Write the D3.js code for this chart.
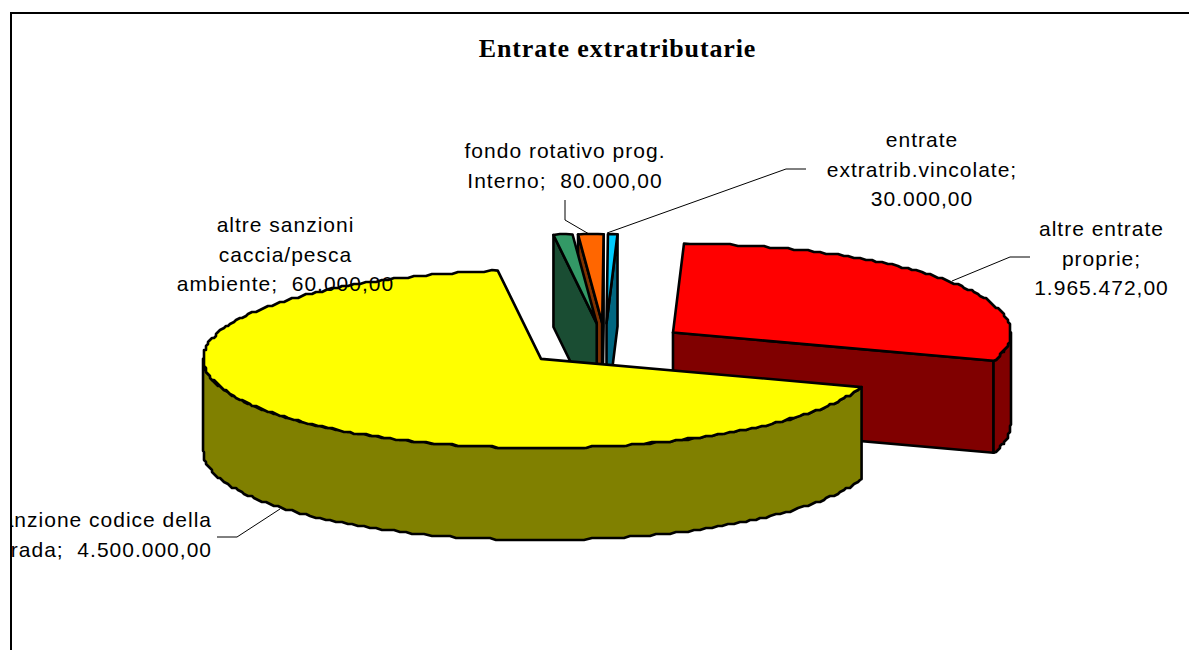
<!DOCTYPE html>
<html>
<head>
<meta charset="utf-8">
<title>Entrate extratributarie</title>
<style>
  html, body { margin: 0; padding: 0; background: #fff; overflow: hidden; }
  svg { display: block; }
  text { font-family: "Liberation Sans", Arial, sans-serif; font-size: 21px; letter-spacing: 1px; fill: #000; }
</style>
</head>
<body>
<svg width="1189" height="650"></svg>
<script src="https://d3js.org/d3.v7.min.js"></script>
<script>
// clockwise from the big yellow slice
const names = ["sanzione codice della strada", "altre sanzioni caccia/pesca ambiente", "fondo rotativo prog. Interno", "entrate extratrib.vincolate", "altre entrate proprie"];
const values = [4500000, 60000, 80000, 30000, 1965472];
const topColors = ["#ffff00", "#339966", "#ff6600", "#00ccff", "#ff0000"];
const sideColors = ["#808000", "#1a4d33", "#803300", "#006680", "#800000"];
const drawOrder = [3, 2, 1, 4, 0];

const labelLines = [
  ["sanzione codice della", "strada;  4.500.000,00"],
  ["altre sanzioni", "caccia/pesca", "ambiente;  60.000,00"],
  ["fondo rotativo prog.", "Interno;  80.000,00"],
  ["entrate", "extratrib.vincolate;", "30.000,00"],
  ["altre entrate", "proprie;", "1.965.472,00"]
];
const labelX = [212, 285.5, 565, 922, 1101.5];
const labelY = [527, 232, 158, 147, 236];
const labelAnchor = ["end", "middle", "middle", "middle", "middle"];
const leaders = [
  [[217, 537], [237, 537], [280, 509]],
  [],
  [[565, 200], [565, 220], [589, 234]],
  [[806, 169], [786, 169], [607, 233]],
  [[1030, 257], [1010, 257], [952, 281]]
];

const cx = 605, cy = 345, rx = 338, ry = 89, depth = 92, explode = 0.245;
const lineGap = 29.5;
const TAU = Math.PI * 2;
const startDeg = 108.5;

const svg = d3.select("svg");
svg.append("defs").append("clipPath").attr("id", "frame")
  .append("rect").attr("x", 12).attr("y", 13).attr("width", 1177).attr("height", 637);

// frame
svg.append("path").attr("d", "M11,650V13H1189").attr("fill", "none").attr("stroke", "#000").attr("stroke-width", 2);

svg.append("text").attr("x", 617.5).attr("y", 57).attr("text-anchor", "middle")
  .style("font-family", '"Liberation Serif", "Times New Roman", serif')
  .style("font-weight", "bold").style("font-size", "26px").style("letter-spacing", "0.85px")
  .text("Entrate extratributarie");

const start = startDeg * Math.PI / 180;
// angles wrapped back under a full turn, the red slice runs past north
const arcs = d3.pie().sort(null).startAngle(start).endAngle(start + TAU)(values).map(d => {
  if (d.startAngle >= TAU) { d.startAngle -= TAU; d.endAngle -= TAU; }
  return d;
});
const lineGen = d3.line();

function centre(d) {
  const mid = (d.startAngle + d.endAngle) / 2;
  return [cx + explode * rx * Math.sin(mid), cy - explode * ry * Math.cos(mid)];
}
function rimPoint(c, a, drop) {
  return [c[0] + rx * Math.sin(a), c[1] - ry * Math.cos(a) + (drop || 0)];
}
function rimPoints(c, a0, a1, drop) {
  // rim of the original is a rough polygon, snap the inner points to a small grid
  const n = Math.max(1, Math.ceil(Math.abs(a1 - a0) / 0.02));
  return d3.range(n + 1).map(i => {
    const p = rimPoint(c, a0 + (a1 - a0) * i / n, drop);
    return (i === 0 || i === n) ? p : [Math.round(p[0] / 2) * 2, Math.round(p[1] / 2) * 2];
  });
}
function face(c, a) {
  const p = rimPoint(c, a), q = rimPoint(c, a, depth);
  return lineGen([c, p, q, [c[0], c[1] + depth]]) + "Z";
}

const slices = svg.append("g").selectAll("g")
  .data(drawOrder.map(i => arcs[i]))
  .join("g")
  .attr("stroke", "#000").attr("stroke-width", 2.6).attr("stroke-linejoin", "round");

slices.each(function (d) {
  const g = d3.select(this);
  const c = centre(d);
  const side = sideColors[d.index];

  // only cut faces turned towards the viewer
  if (Math.sin(d.startAngle) < 0) g.append("path").attr("d", face(c, d.startAngle)).attr("fill", side);
  if (Math.sin(d.endAngle) > 0) g.append("path").attr("d", face(c, d.endAngle)).attr("fill", side);

  // outer wall, front half only
  const a0 = Math.max(d.startAngle, Math.PI / 2), a1 = Math.min(d.endAngle, Math.PI * 1.5);
  if (a1 > a0) {
    const pts = rimPoints(c, a0, a1, 0).concat(rimPoints(c, a1, a0, depth));
    g.append("path").attr("d", lineGen(pts) + "Z").attr("fill", side);
  }

  g.append("path")
    .attr("d", lineGen([c].concat(rimPoints(c, d.startAngle, d.endAngle, 0))) + "Z")
    .attr("fill", topColors[d.index]);
});

// leader lines
svg.append("g").selectAll("path")
  .data(leaders.filter(l => l.length))
  .join("path")
  .attr("d", d => lineGen(d))
  .attr("fill", "none").attr("stroke", "#000").attr("stroke-width", 1);

// labels, clipped by the chart frame
const labels = svg.append("g").attr("clip-path", "url(#frame)").selectAll("text")
  .data(names)
  .join("text")
  .attr("text-anchor", (d, i) => labelAnchor[i]);
labels.selectAll("tspan")
  .data((d, i) => labelLines[i].map((t, j) => ({ t, x: labelX[i], y: labelY[i] + j * lineGap })))
  .join("tspan")
  .attr("x", d => d.x).attr("y", d => d.y)
  .style("white-space", "pre")
  .text(d => d.t);
</script>
</body>
</html>
